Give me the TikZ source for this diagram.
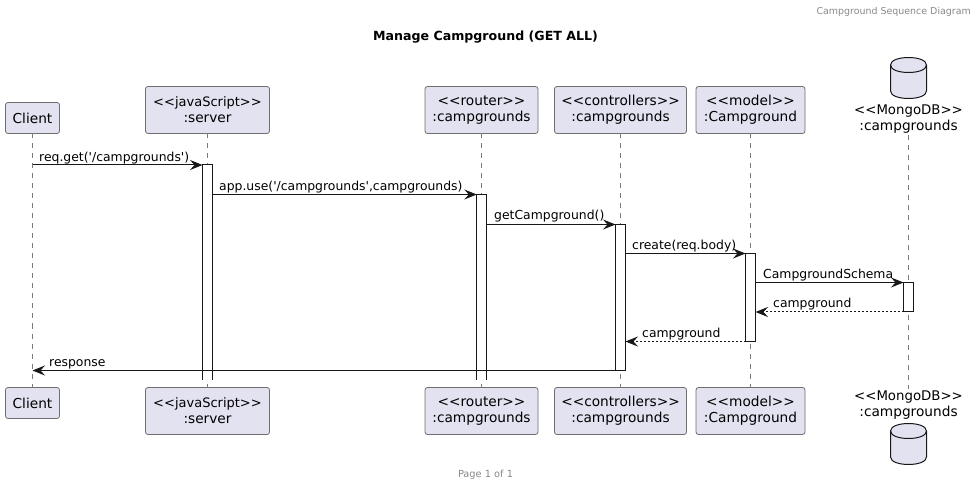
\documentclass[tikz,border=0pt]{standalone}
\usepackage{fontspec}
\usetikzlibrary{arrows.meta}
\newfontfamily\dfont{DejaVu Sans}
\definecolor{partfill}{HTML}{E2E2F0}
\definecolor{partline}{HTML}{6E6E6E}
\definecolor{lifeline}{HTML}{7A7A7A}
\definecolor{inkdark}{HTML}{181818}
\definecolor{graytext}{HTML}{888888}
\newcommand{\jsname}{{\fontsize{13}{16}\selectfont <<javaScript>>}}
\newcommand{\mgname}{{\fontsize{13.3}{16}\selectfont <<MongoDB>>}}
\tikzset{
  x=1pt,y=-1pt,
  part/.style={draw=partline,fill=partfill,line width=0.8pt,rounded corners=2.5pt,inner sep=0pt,outer sep=0pt,align=center,text=black,font=\dfont\fontsize{13.7}{16}\selectfont},
  dbtext/.style={inner sep=0pt,outer sep=0pt,align=center,text=black,font=\dfont\fontsize{13.7}{16}\selectfont},
  life/.style={draw=lifeline,line width=0.7pt,dash pattern=on 5pt off 5pt},
  actbar/.style={draw=inkdark,fill=white,line width=1pt,inner sep=0pt,outer sep=0pt,minimum width=10pt},
  openbar/.style={actbar,draw=none},
  baredge/.style={draw=inkdark,line width=1pt},
  msg/.style={draw=inkdark,line width=1pt,-{Stealth[length=12.5pt,width=10pt,inset=4.5pt,color=inkdark]}},
  ret/.style={msg,dash pattern=on 2pt off 2pt},
  lbl/.style={anchor=base west,inner sep=0pt,text=black,font=\dfont\fontsize{12.4}{14}\selectfont},
  dbshape/.style={draw=inkdark,fill=partfill,line width=1pt}
}
\newcommand{\cyl}[2]{%
  \draw[dbshape] (#1-18,#2+10) .. controls (#1-18,#2) and (#1+18,#2) .. (#1+18,#2+10)
    -- (#1+18,#2+36) .. controls (#1+18,#2+46) and (#1-18,#2+46) .. (#1-18,#2+36) -- cycle;
  \draw[dbshape,fill=none] (#1-18,#2+10) .. controls (#1-18,#2+20) and (#1+18,#2+20) .. (#1+18,#2+10);
}
\begin{document}
\begin{tikzpicture}
\useasboundingbox (0,0) rectangle (977,486);
% participants
\node[part,minimum width=54pt,minimum height=31pt] (ct) at (32.5,118) {Client};
\node[part,minimum width=124pt,minimum height=47pt] (st) at (207.5,110) {\jsname\\:server};
\node[part,minimum width=113pt,minimum height=47pt] (rt) at (481.5,110) {<<router>>\\:campgrounds};
\node[part,minimum width=132pt,minimum height=47pt] (nt) at (620.5,110) {<<controllers>>\\:campgrounds};
\node[part,minimum width=109pt,minimum height=47pt] (mt) at (750.5,110) {<<model>>\\:Campground};
\node[dbtext,minimum height=32pt] (dt) at (908.5,119) {\mgname\\:campgrounds};
\node[part,minimum width=54pt,minimum height=31pt] (cb) at (32.5,403) {Client};
\node[part,minimum width=124pt,minimum height=47pt] (sb) at (207.5,411) {\jsname\\:server};
\node[part,minimum width=113pt,minimum height=47pt] (rb) at (481.5,411) {<<router>>\\:campgrounds};
\node[part,minimum width=132pt,minimum height=47pt] (nb) at (620.5,411) {<<controllers>>\\:campgrounds};
\node[part,minimum width=109pt,minimum height=47pt] (mb) at (750.5,411) {<<model>>\\:Campground};
\node[dbtext,minimum height=32pt] (db) at (908.5,405) {\mgname\\:campgrounds};
\cyl{908.5}{55}
\cyl{908.5}{421}
% lifelines
\draw[life] (ct.south) -- (cb.north);
\draw[life] (st.south) -- (sb.north);
\draw[life] (rt.south) -- (rb.north);
\draw[life] (nt.south) -- (nb.north);
\draw[life] (mt.south) -- (mb.north);
\draw[life] (dt.south) -- (db.north);
% activations
\node[openbar,minimum height=214.5pt] (as) at (207.5,272.25) {};
\draw[baredge] (as.south west) -- (as.north west) -- (as.north east) -- (as.south east);
\node[openbar,minimum height=185pt] (ar) at (481.8,287) {};
\draw[baredge] (ar.south west) -- (ar.north west) -- (ar.north east) -- (ar.south east);
\node[actbar,minimum height=146pt] (an) at (620.5,297.5) {};
\node[actbar,minimum height=88pt] (am) at (750.5,297.5) {};
\node[actbar,minimum height=29.5pt] (ad) at (908.5,297.25) {};
% messages
\draw[msg] (ct.south |- as.north) -- (as.north west);
\draw[msg] (as.east |- ar.north) -- (ar.north west);
\draw[msg] (ar.east |- an.north) -- (an.north west);
\draw[msg] (an.east |- am.north) -- (am.north west);
\draw[msg] (am.east |- ad.north) -- (ad.north west);
\draw[ret] (ad.south west) -- (am.east |- ad.south);
\draw[ret] (am.south west) -- (an.east |- am.south);
\draw[msg] (an.south west) -- (ct.south |- an.south);
% labels
\node[lbl] (l1) at (39,161.5) {req.get('/campgrounds')};
\node[lbl] (l2) at (219,190.5) {app.use('/campgrounds',campgrounds)};
\node[lbl] (l3) at (494,220) {getCampground()};
\node[lbl] (l4) at (632,249.5) {create(req.body)};
\node[lbl] (l5) at (763,278.5) {CampgroundSchema};
\node[lbl] (l6) at (773,307.5) {campground};
\node[lbl] (l7) at (642,337.5) {campground};
\node[lbl] (l8) at (49,366) {response};
% title, header, footer
\node[anchor=base,inner sep=0pt,text=black,font=\dfont\bfseries\fontsize{12.6}{16}\selectfont] (title) at (485.5,41) {Manage Campground (GET ALL)};
\node[anchor=base east,inner sep=0pt,text=graytext,font=\dfont\fontsize{9.45}{12}\selectfont] (head) at (971,15) {Campground Sequence Diagram};
\node[anchor=base,inner sep=0pt,text=graytext,font=\dfont\fontsize{9.8}{12}\selectfont] (foot) at (485.5,477) {Page 1 of 1};
\end{tikzpicture}
\end{document}
